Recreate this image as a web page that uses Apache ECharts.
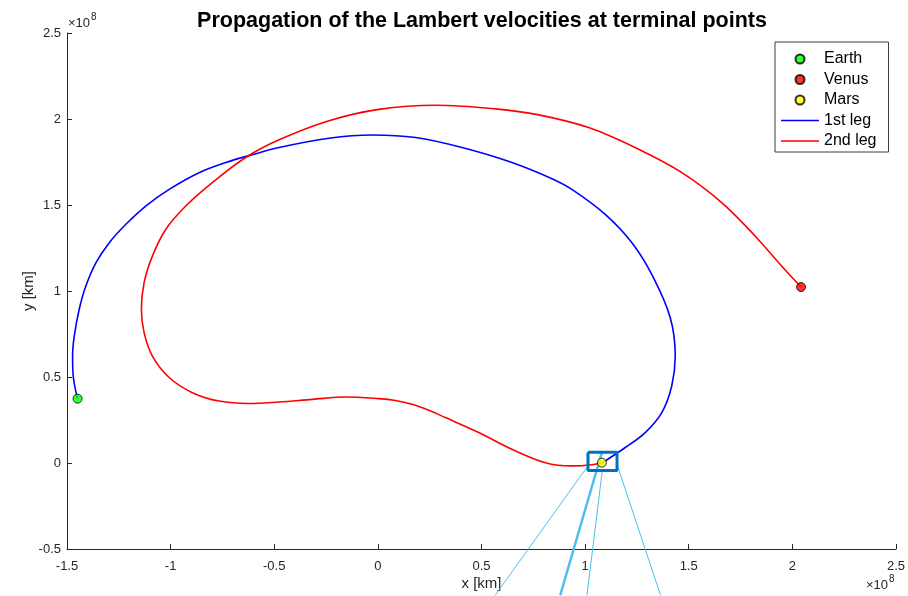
<!DOCTYPE html>
<html>
<head>
<meta charset="utf-8">
<title>Propagation of the Lambert velocities at terminal points</title>
<script src="https://cdn.jsdelivr.net/npm/echarts@6/dist/echarts.min.js"></script>
<style>
  html, body { margin: 0; padding: 0; background: #fff; }
  #chart { width: 908px; height: 596px; }
</style>
</head>
<body>
<div id="chart"></div>
<script>
// All positions are in units of 1e8 km.
const xTicks = [-1.5, -1, -0.5, 0, 0.5, 1, 1.5, 2, 2.5];
const yTicks = [-0.5, 0, 0.5, 1, 1.5, 2, 2.5];

const earth = [[-1.449, 0.374]];
const venus = [[2.042, 1.023]];
const mars  = [[1.081, 0.002]];

// 1st leg: Earth -> Mars
const leg1 = [
  [-1.449, 0.374], [-1.470, 0.506], [-1.473, 0.622], [-1.465, 0.738],
  [-1.441, 0.894], [-1.409, 1.029], [-1.360, 1.165], [-1.296, 1.281],
  [-1.216, 1.388], [-1.120, 1.494], [-1.007, 1.591], [-0.863, 1.688],
  [-0.734, 1.747], [-0.622, 1.787], [-0.477, 1.834], [-0.236, 1.888],
  [-0.027, 1.907], [0.182, 1.892], [0.406, 1.834], [0.647, 1.747],
  [0.840, 1.653], [0.936, 1.591], [1.097, 1.446], [1.226, 1.281],
  [1.326, 1.087], [1.411, 0.845], [1.435, 0.622], [1.418, 0.448],
  [1.370, 0.293], [1.290, 0.177], [1.194, 0.090], [1.097, 0.012],
  [1.081, 0.002]
];

// 2nd leg: Mars -> Venus
const leg2 = [
  [1.081, 0.002], [1.033, -0.010], [0.936, -0.017], [0.808, 0.002],
  [0.647, 0.080], [0.487, 0.177], [0.326, 0.264], [0.246, 0.306],
  [0.165, 0.341], [0.085, 0.363], [0.005, 0.374], [-0.156, 0.384],
  [-0.317, 0.370], [-0.477, 0.355], [-0.622, 0.346], [-0.766, 0.360],
  [-0.895, 0.409], [-1.007, 0.497], [-1.088, 0.622], [-1.128, 0.758],
  [-1.141, 0.894], [-1.128, 1.049], [-1.088, 1.203], [-1.023, 1.359],
  [-0.927, 1.494], [-0.799, 1.630], [-0.638, 1.776], [-0.477, 1.879],
  [-0.236, 1.990], [0.005, 2.056], [0.278, 2.080], [0.567, 2.059],
  [0.776, 2.024], [1.017, 1.950], [1.258, 1.824], [1.467, 1.688],
  [1.659, 1.514], [1.820, 1.320], [1.948, 1.145], [2.042, 1.023]
];

// Zoom window around Mars and the connector lines leading to the inset below
const zoomBox = [[1.014, 0.062], [1.154, 0.062], [1.154, -0.044], [1.014, -0.044], [1.014, 0.062]];
const connectors = [
  [[1.019, -0.008], [0.566, -0.769]],
  [[1.081, 0.062], [0.880, -0.769]],
  [[1.083, -0.044], [1.009, -0.769]],
  [[1.154, -0.008], [1.364, -0.769]]
];
const connectorWidths = [1, 2.5, 1, 1];

const FONT = 'Liberation Sans, Arial, Helvetica, sans-serif';
const AXIS_COLOR = '#262626';
const LINE_ICON = 'path://M0,0H40V1.8H0Z';

const chart = echarts.init(document.getElementById('chart'), null, { renderer: 'canvas' });

const axisCommon = {
  type: 'value',
  axisLine: { show: true, onZero: false, lineStyle: { color: AXIS_COLOR, width: 1 } },
  axisTick: { show: true, inside: true, length: 5, lineStyle: { color: AXIS_COLOR } },
  splitLine: { show: false },
  axisLabel: { color: AXIS_COLOR, fontSize: 13, fontFamily: FONT, showMinLabel: true, showMaxLabel: true },
  nameTextStyle: { color: AXIS_COLOR, fontSize: 15, fontFamily: FONT },
  nameLocation: 'middle',
  nameMoveOverlap: false
};

const connectorSeries = connectors.map((seg, i) => ({
  type: 'line',
  data: seg,
  symbol: 'none',
  clip: false,
  silent: true,
  z: 3,
  lineStyle: { color: '#4DBEEE', width: connectorWidths[i] }
}));

const markerSeries = (name, data, color) => ({
  name: name,
  type: 'scatter',
  data: data,
  symbol: 'circle',
  symbolSize: 9,
  z: 6,
  itemStyle: { color: color, borderColor: '#000', borderWidth: 1 }
});

chart.setOption({
  animation: false,
  backgroundColor: '#fff',
  title: {
    text: 'Propagation of the Lambert velocities at terminal points',
    left: 477,
    textAlign: 'center',
    top: 5,
    textStyle: { fontSize: 21.5, fontWeight: 'bold', color: '#000', fontFamily: FONT }
  },
  grid: { left: 67, right: 11, top: 33, bottom: 47, containLabel: false },
  xAxis: Object.assign({}, axisCommon, {
    min: xTicks[0], max: xTicks[xTicks.length - 1], interval: 0.5,
    name: 'x [km]', nameGap: 27,
    axisLabel: Object.assign({}, axisCommon.axisLabel, { margin: 11 })
  }),
  yAxis: Object.assign({}, axisCommon, {
    min: yTicks[0], max: yTicks[yTicks.length - 1], interval: 0.5,
    name: 'y [km]', nameGap: 31,
    axisLabel: Object.assign({}, axisCommon.axisLabel, { margin: 6 })
  }),
  legend: {
    orient: 'vertical',
    left: 775,
    top: 42,
    padding: [9, 12, 3, 6],
    itemGap: 4.5,
    itemWidth: 38,
    itemHeight: 9,
    borderColor: '#3c3c3c',
    borderWidth: 1,
    borderRadius: 0,
    backgroundColor: '#fff',
    textStyle: { fontSize: 16, lineHeight: 16, fontFamily: FONT, color: '#000' },
    data: [
      { name: 'Earth' },
      { name: 'Venus' },
      { name: 'Mars' },
      { name: '1st leg', icon: LINE_ICON },
      { name: '2nd leg', icon: LINE_ICON }
    ]
  },
  series: [
    {
      name: '1st leg',
      type: 'line',
      data: leg1,
      smooth: 0.36,
      symbol: 'none',
      z: 4,
      lineStyle: { color: '#0000ff', width: 1.6 },
      itemStyle: { color: '#0000ff' }
    },
    {
      name: '2nd leg',
      type: 'line',
      data: leg2,
      smooth: 0.36,
      symbol: 'none',
      z: 4,
      lineStyle: { color: '#ff0000', width: 1.6 },
      itemStyle: { color: '#ff0000' }
    },
    ...connectorSeries,
    {
      type: 'line',
      data: zoomBox,
      symbol: 'none',
      silent: true,
      z: 5,
      lineStyle: { color: '#0072BD', width: 3 }
    },
    markerSeries('Earth', earth, '#00ff00'),
    markerSeries('Venus', venus, '#ff0000'),
    markerSeries('Mars', mars, '#ffff00')
  ],
  graphic: [
    {
      type: 'text',
      left: 68, top: 12,
      style: {
        text: '{a|×10}{b|8}',
        fill: AXIS_COLOR,
        rich: {
          a: { fontSize: 13, fontFamily: FONT, fill: AXIS_COLOR, verticalAlign: 'bottom' },
          b: { fontSize: 10, fontFamily: FONT, fill: AXIS_COLOR, verticalAlign: 'top', padding: [0, 0, 8, 1] }
        }
      }
    },
    {
      type: 'text',
      left: 866, top: 574,
      style: {
        text: '{a|×10}{b|8}',
        fill: AXIS_COLOR,
        rich: {
          a: { fontSize: 13, fontFamily: FONT, fill: AXIS_COLOR, verticalAlign: 'bottom' },
          b: { fontSize: 10, fontFamily: FONT, fill: AXIS_COLOR, verticalAlign: 'top', padding: [0, 0, 8, 1] }
        }
      }
    }
  ]
});
</script>
</body>
</html>
